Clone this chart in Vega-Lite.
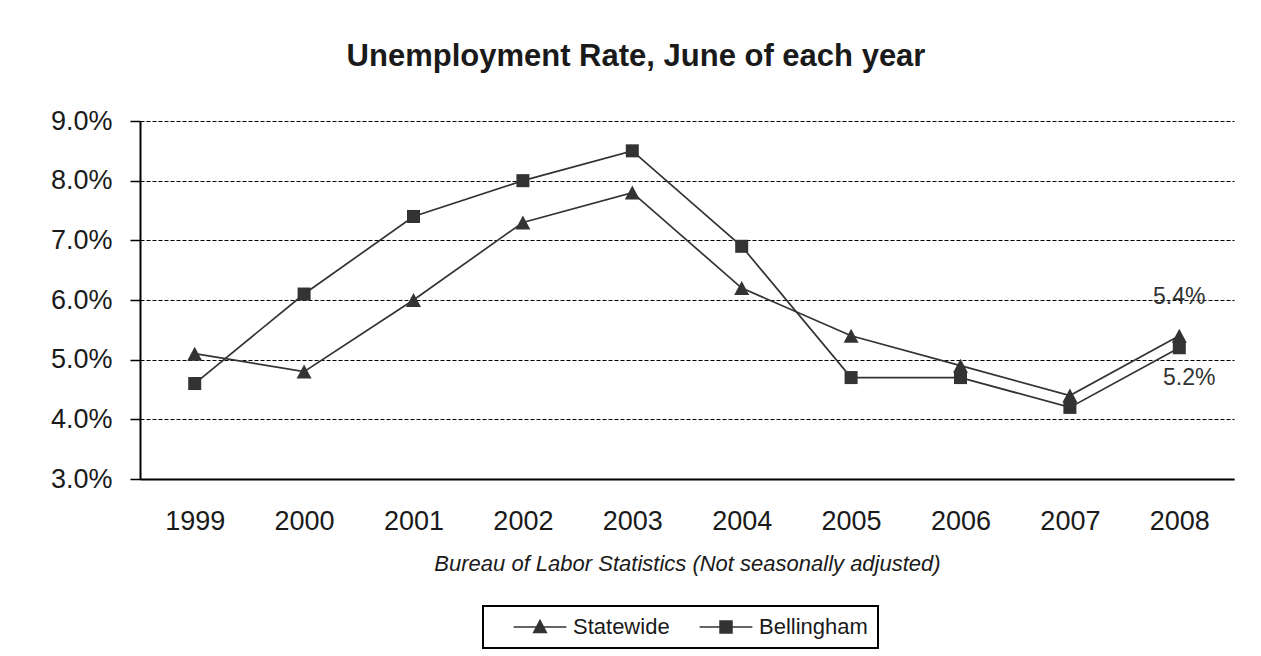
{
  "$schema": "https://vega.github.io/schema/vega-lite/v6.json",
  "width": 1094,
  "height": 358,
  "autosize": "none",
  "padding": {"left": 140, "top": 121, "right": 27, "bottom": 177},
  "background": "white",
  "title": {
    "text": "Unemployment Rate, June of each year",
    "font": "Liberation Sans",
    "fontSize": 31,
    "fontWeight": "bold",
    "color": "#1a1a1a",
    "anchor": "middle",
    "frame": "group",
    "baseline": "alphabetic",
    "dx": -51,
    "offset": 10
  },
  "data": {
    "values": [
      {"Year": "1999", "Series": "Statewide", "Rate": 0.051},
      {"Year": "2000", "Series": "Statewide", "Rate": 0.048},
      {"Year": "2001", "Series": "Statewide", "Rate": 0.060},
      {"Year": "2002", "Series": "Statewide", "Rate": 0.073},
      {"Year": "2003", "Series": "Statewide", "Rate": 0.078},
      {"Year": "2004", "Series": "Statewide", "Rate": 0.062},
      {"Year": "2005", "Series": "Statewide", "Rate": 0.054},
      {"Year": "2006", "Series": "Statewide", "Rate": 0.049},
      {"Year": "2007", "Series": "Statewide", "Rate": 0.044},
      {"Year": "2008", "Series": "Statewide", "Rate": 0.054},
      {"Year": "1999", "Series": "Bellingham", "Rate": 0.046},
      {"Year": "2000", "Series": "Bellingham", "Rate": 0.061},
      {"Year": "2001", "Series": "Bellingham", "Rate": 0.074},
      {"Year": "2002", "Series": "Bellingham", "Rate": 0.080},
      {"Year": "2003", "Series": "Bellingham", "Rate": 0.085},
      {"Year": "2004", "Series": "Bellingham", "Rate": 0.069},
      {"Year": "2005", "Series": "Bellingham", "Rate": 0.047},
      {"Year": "2006", "Series": "Bellingham", "Rate": 0.047},
      {"Year": "2007", "Series": "Bellingham", "Rate": 0.042},
      {"Year": "2008", "Series": "Bellingham", "Rate": 0.052}
    ]
  },
  "encoding": {
    "x": {
      "field": "Year",
      "type": "ordinal",
      "scale": {"type": "point", "padding": 0.5},
      "axis": {
        "title": "Bureau of Labor Statistics (Not seasonally adjusted)",
        "titleFont": "Liberation Sans",
        "titleFontStyle": "italic",
        "titleFontWeight": "normal",
        "titleFontSize": 22,
        "titleColor": "#1a1a1a",
        "titlePadding": 19,
        "labelAngle": 0,
        "labelFont": "Liberation Sans",
        "labelFontSize": 27,
        "labelColor": "#1a1a1a",
        "labelPadding": 29,
        "ticks": false,
        "domainColor": "black",
        "domainWidth": 2,
        "grid": false
      }
    },
    "y": {
      "field": "Rate",
      "type": "quantitative",
      "scale": {"domain": [0.03, 0.09], "nice": false, "zero": false},
      "axis": {
        "title": null,
        "values": [0.03, 0.04, 0.05, 0.06, 0.07, 0.08, 0.09],
        "format": ".1%",
        "labelFont": "Liberation Sans",
        "labelFontSize": 27,
        "labelColor": "#1a1a1a",
        "labelPadding": 18,
        "tickSize": 10,
        "tickColor": "black",
        "tickWidth": 1.5,
        "domainColor": "black",
        "domainWidth": 2,
        "grid": true,
        "gridColor": "black",
        "gridDash": [4, 2],
        "gridWidth": 1
      }
    }
  },
  "layer": [
    {
      "mark": {"type": "line", "color": "#333333", "strokeWidth": 1.7},
      "encoding": {"detail": {"field": "Series"}}
    },
    {
      "mark": {"type": "point", "filled": true, "opacity": 1, "size": 196, "color": "#333333"},
      "encoding": {
        "shape": {
          "field": "Series",
          "type": "nominal",
          "scale": {
            "domain": ["Statewide", "Bellingham"],
            "range": ["M0,-1L1.07,1L-1.07,1Z", "M-0.93,-0.93H0.93V0.93H-0.93Z"]
          },
          "legend": null
        }
      }
    },
    {
      "mark": {"type": "point", "filled": true, "opacity": 0, "size": 144, "color": "#333333", "stroke": "#333333", "strokeWidth": 1.5},
      "encoding": {
        "shape": {
          "field": "Series",
          "type": "nominal",
          "scale": {
            "domain": ["Statewide", "Bellingham"],
            "range": ["M-4.4,0H4.4M0,-1.1L1.05,0.9L-1.05,0.9Z", "M-4.4,0H4.4M-1,-1H1V1H-1Z"]
          },
          "legend": {
            "title": null,
            "orient": "none",
            "direction": "horizontal",
            "legendX": 343,
            "legendY": 485,
            "padding": 10,
            "strokeColor": "black",
            "labelFont": "Liberation Sans",
            "labelFontSize": 22,
            "labelColor": "#1a1a1a",
            "symbolSize": 144,
            "symbolOpacity": 1,
            "symbolOffset": 36,
            "labelOffset": 22,
            "columnPadding": 9,
            "symbolStrokeWidth": 1.5
          }
        }
      }
    },
    {
      "transform": [{"filter": "datum.Year === '2008' && datum.Series === 'Statewide'"}],
      "mark": {"type": "text", "font": "Liberation Sans", "fontSize": 23, "color": "#333333", "dy": -39},
      "encoding": {"text": {"field": "Rate", "type": "quantitative", "format": ".1%"}}
    },
    {
      "transform": [{"filter": "datum.Year === '2008' && datum.Series === 'Bellingham'"}],
      "mark": {"type": "text", "font": "Liberation Sans", "fontSize": 23, "color": "#333333", "dy": 30, "dx": 10},
      "encoding": {"text": {"field": "Rate", "type": "quantitative", "format": ".1%"}}
    }
  ],
  "resolve": {"scale": {"shape": "independent"}, "legend": {"shape": "independent"}},
  "config": {
    "view": {"stroke": null},
    "font": "Liberation Sans",
    "legend": {"strokeWidth": 2}
  }
}
